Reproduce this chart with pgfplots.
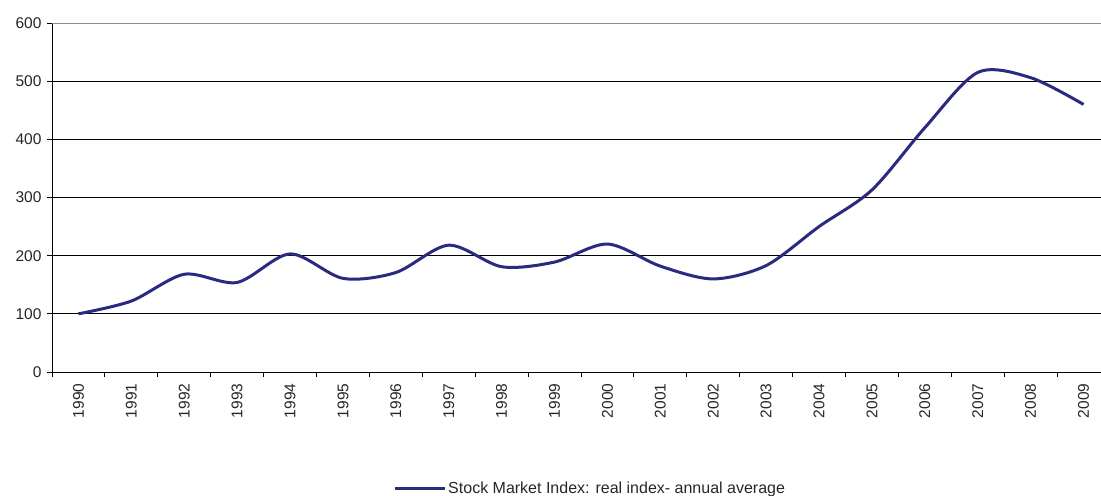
\documentclass[border=0pt]{standalone}
\usepackage{pgfplots}
\pgfplotsset{compat=1.18}
\usepackage{fontspec}
\setmainfont{Liberation Sans}
\definecolor{navyline}{RGB}{42,42,128}
\begin{document}
\fontsize{16bp}{19bp}\selectfont
\begin{tikzpicture}
\begin{axis}[
  scale only axis,
  width=1049bp, height=349bp,
  xmin=-0.5, xmax=19.33,
  ymin=0, ymax=600,
  axis x line*=bottom,
  axis y line*=left,
  axis line style={black, line width=0.8bp, -},
  xtick={0,...,19},
  xticklabels={1990,1991,1992,1993,1994,1995,1996,1997,1998,1999,2000,2001,2002,2003,2004,2005,2006,2007,2008,2009},
  x tick label style={rotate=90, anchor=east, font=\fontsize{15.5bp}{18bp}\selectfont, text=black!85},
  major x tick style={draw=none},
  minor xtick={-0.5,0.5,...,18.5},
  minor tick length=5bp,
  minor x tick style={black, line width=0.8bp},
  ytick={0,100,...,500},
  extra y ticks={600},
  extra y tick style={grid style={black!45, line width=0.8bp}},
  y tick label style={font=\fontsize{15.5bp}{18bp}\selectfont, text=black!85},
  major tick length=5bp,
  tick align=outside,
  y tick style={black, line width=0.8bp},
  ymajorgrids,
  grid style={black, line width=0.8bp},
  /pgf/number format/assume math mode=true,
  xticklabel shift=1bp,
  legend style={at={(rel axis cs:0.513,-0.335)}, anchor=center, draw=none, fill=none,
    font=\fontsize{16bp}{19bp}\selectfont, text=black!85},
  legend image code/.code={\draw[#1, line width=3bp] (0bp,0bp) -- (50bp,0bp);},
  clip=false,
]
\addplot[navyline, line width=3bp, smooth, tension=0.5] coordinates {
(0,100) (1,122) (2,168) (3,154) (4,203) (5,161) (6,171) (7,218) (8,181) (9,189)
(10,220) (11,182) (12,160) (13,183) (14,250) (15,313) (16,420) (17,515) (18,506) (19,460)
};
\addlegendentry{Stock Market Index: real index- annual average}
\coordinate (o) at (rel axis cs:0,0);
\end{axis}
\pgfresetboundingbox
\path[use as bounding box] ([xshift=-52bp,yshift=-124bp]o) rectangle ([xshift=1049bp,yshift=372bp]o);
\end{tikzpicture}
\end{document}
